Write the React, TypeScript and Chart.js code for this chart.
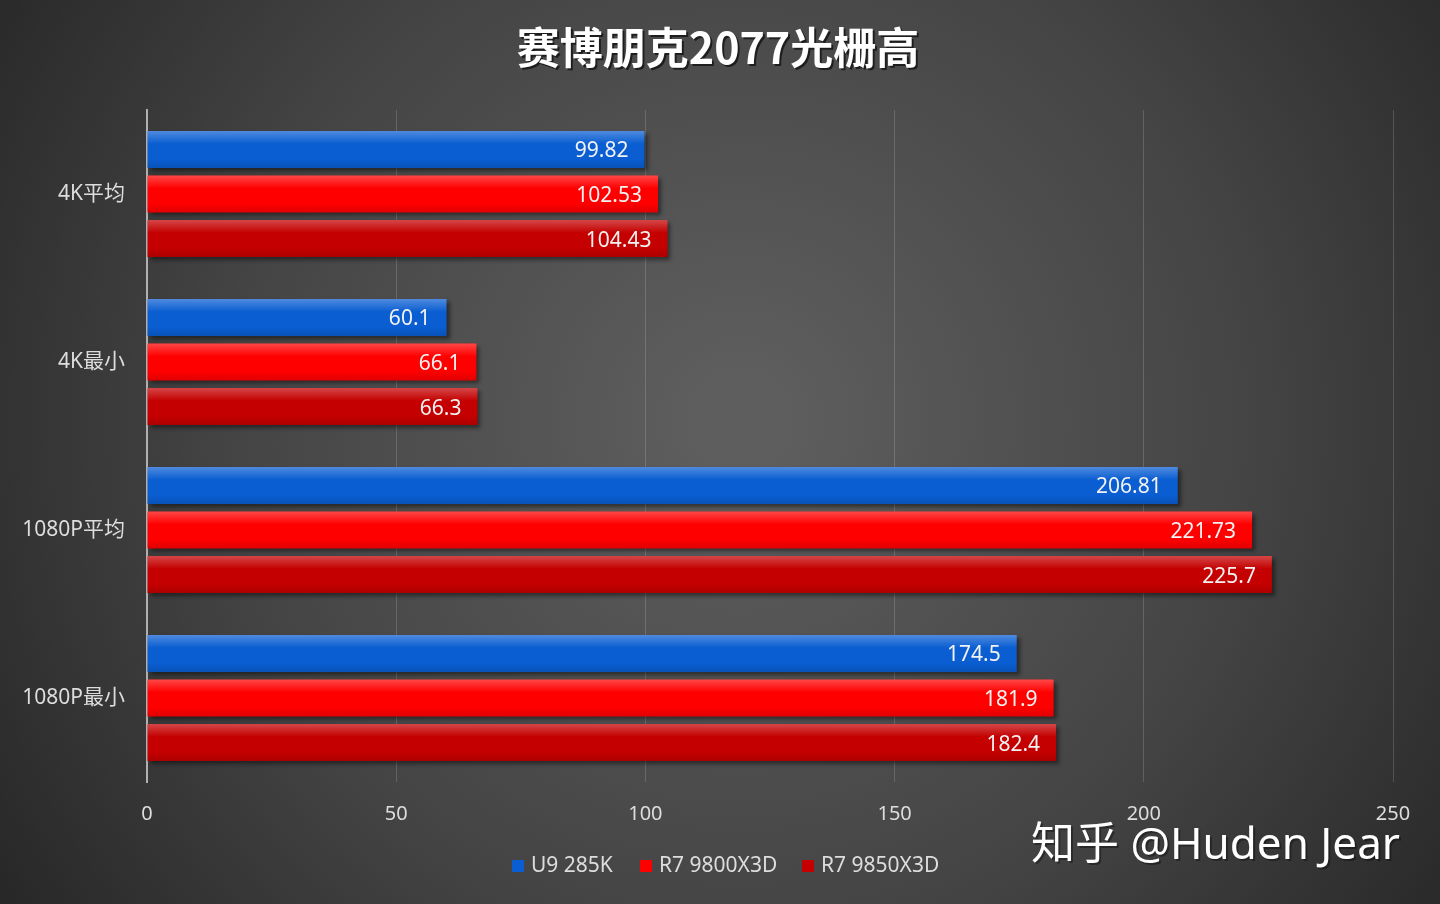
import React, { useEffect, useRef } from 'react';
import { Chart, registerables } from 'chart.js';

Chart.register(...registerables);

const categories = ['4K平均', '4K最小', '1080P平均', '1080P最小'];
const seriesNames = ['U9 285K', 'R7 9800X3D', 'R7 9850X3D'];
const u9Values = [99.82, 60.1, 206.81, 174.5];
const r9800Values = [102.53, 66.1, 221.73, 181.9];
const r9850Values = [104.43, 66.3, 225.7, 182.4];
const xTicks = [0, 50, 100, 150, 200, 250];

const barColors = ['#0a5ed2', '#ff0000', '#c40000'];
const FONT = '"Noto Sans", "Noto Sans CJK SC", sans-serif';
const TITLE_FONT = '"Noto Sans CJK SC", "Noto Sans", sans-serif';

const decorPlugin = {
  id: 'decor',
  beforeDraw(chart: any) {
    const { ctx, width, height } = chart;
    const g = ctx.createRadialGradient(740, 420, 40, 740, 420, 900);
    g.addColorStop(0, '#5e5e5e');
    g.addColorStop(0.55, '#444444');
    g.addColorStop(1, '#262626');
    ctx.save();
    ctx.fillStyle = g;
    ctx.fillRect(0, 0, width, height);
    ctx.restore();
  },
  beforeDatasetsDraw(chart: any) {
    const ctx = chart.ctx;
    ctx.save();
    ctx.shadowColor = 'rgba(0,0,0,0.45)';
    ctx.shadowOffsetX = 3;
    ctx.shadowOffsetY = 3;
    ctx.shadowBlur = 4;
  },
  afterDatasetsDraw(chart: any) {
    const ctx = chart.ctx;
    ctx.restore();
    chart.data.datasets.forEach((ds: any, di: number) => {
      const meta = chart.getDatasetMeta(di);
      meta.data.forEach((bar: any, i: number) => {
        const { x, y, base, height } = bar.getProps(['x', 'y', 'base', 'height'], true);
        const top = y - height / 2;
        // glossy overlay
        const g = ctx.createLinearGradient(0, top, 0, top + height);
        g.addColorStop(0, 'rgba(255,255,255,0.28)');
        g.addColorStop(0.35, 'rgba(255,255,255,0.0)');
        g.addColorStop(0.75, 'rgba(0,0,0,0.0)');
        g.addColorStop(1, 'rgba(0,0,0,0.12)');
        ctx.save();
        ctx.fillStyle = g;
        ctx.fillRect(base, top, x - base, height);
        ctx.restore();
        // value label
        ctx.save();
        ctx.font = `21px ${FONT}`;
        ctx.fillStyle = '#f2f2f2';
        ctx.textAlign = 'right';
        ctx.textBaseline = 'middle';
        ctx.fillText(String(ds.data[i]), x - 16, y + 2);
        ctx.restore();
      });
    });
  },
  afterDraw(chart: any) {
    const ctx = chart.ctx;
    // title
    ctx.save();
    ctx.font = `bold 43px ${TITLE_FONT}`;
    ctx.textAlign = 'center';
    ctx.textBaseline = 'middle';
    ctx.fillStyle = 'rgba(0,0,0,0.6)';
    ctx.fillText('赛博朋克2077光栅高', 720, 50);
    ctx.fillStyle = '#ffffff';
    ctx.fillText('赛博朋克2077光栅高', 718, 48);
    ctx.restore();
    // legend
    ctx.save();
    ctx.font = `21px ${FONT}`;
    ctx.textBaseline = 'middle';
    const ly = 866;
    const starts = [512, 640, 802];
    seriesNames.forEach((name, i) => {
      ctx.fillStyle = barColors[i];
      ctx.fillRect(starts[i], ly - 6, 12, 12);
      ctx.fillStyle = '#dddddd';
      ctx.textAlign = 'left';
      ctx.fillText(name, starts[i] + 19, ly);
    });
    ctx.restore();
    // watermark
    ctx.save();
    ctx.font = `44px ${FONT}`;
    ctx.textAlign = 'right';
    ctx.textBaseline = 'middle';
    ctx.fillStyle = 'rgba(0,0,0,0.35)';
    ctx.fillText('知乎 @Huden Jear', 1402, 848);
    ctx.fillStyle = '#ffffff';
    ctx.fillText('知乎 @Huden Jear', 1400, 846);
    ctx.restore();
  },
};

const App: React.FC = () => {
  const canvasRef = useRef<HTMLCanvasElement | null>(null);
  const chartInstance = useRef<Chart | null>(null);

  useEffect(() => {
    document.body.style.margin = '0';
    if (!canvasRef.current) return;
    if (chartInstance.current) chartInstance.current.destroy();

    const allValues = [u9Values, r9800Values, r9850Values];

    chartInstance.current = new Chart(canvasRef.current, {
      type: 'bar',
      data: {
        labels: categories,
        datasets: seriesNames.map((name, i) => ({
          label: name,
          data: allValues[i],
          backgroundColor: barColors[i],
          borderWidth: 0,
          categoryPercentage: 0.795,
          barPercentage: 0.83,
        })),
      },
      options: {
        indexAxis: 'y',
        animation: false,
        responsive: false,
        maintainAspectRatio: false,
        devicePixelRatio: 1,
        layout: { padding: { top: 110, right: 47, bottom: 72, left: 0 } },
        plugins: {
          legend: { display: false },
          tooltip: { enabled: false },
          title: { display: false },
        },
        scales: {
          x: {
            min: 0,
            max: 250,
            afterBuildTicks: (scale: any) => {
              scale.ticks = xTicks.map((v) => ({ value: v }));
            },
            afterFit: (scale: any) => {
              scale.height = 50;
            },
            grid: {
              color: 'rgba(255,255,255,0.16)',
              lineWidth: 1,
              drawTicks: false,
            },
            border: { display: false },
            ticks: {
              padding: 20,
              color: '#dddddd',
              font: { family: FONT, size: 20 },
            },
          },
          y: {
            afterFit: (scale: any) => {
              scale.width = 147;
            },
            grid: { display: false, drawTicks: false },
            border: { display: true, color: '#b0b0b0', width: 2 },
            ticks: {
              padding: 22,
              color: '#dddddd',
              font: { family: FONT, size: 21 },
            },
          },
        },
      },
      plugins: [decorPlugin],
    });

    return () => {
      if (chartInstance.current) {
        chartInstance.current.destroy();
        chartInstance.current = null;
      }
    };
  }, []);

  return (
    <div style={{ width: 1440, height: 904 }}>
      <canvas ref={canvasRef} width={1440} height={904} style={{ width: 1440, height: 904, display: 'block' }} />
    </div>
  );
};

export default App;
